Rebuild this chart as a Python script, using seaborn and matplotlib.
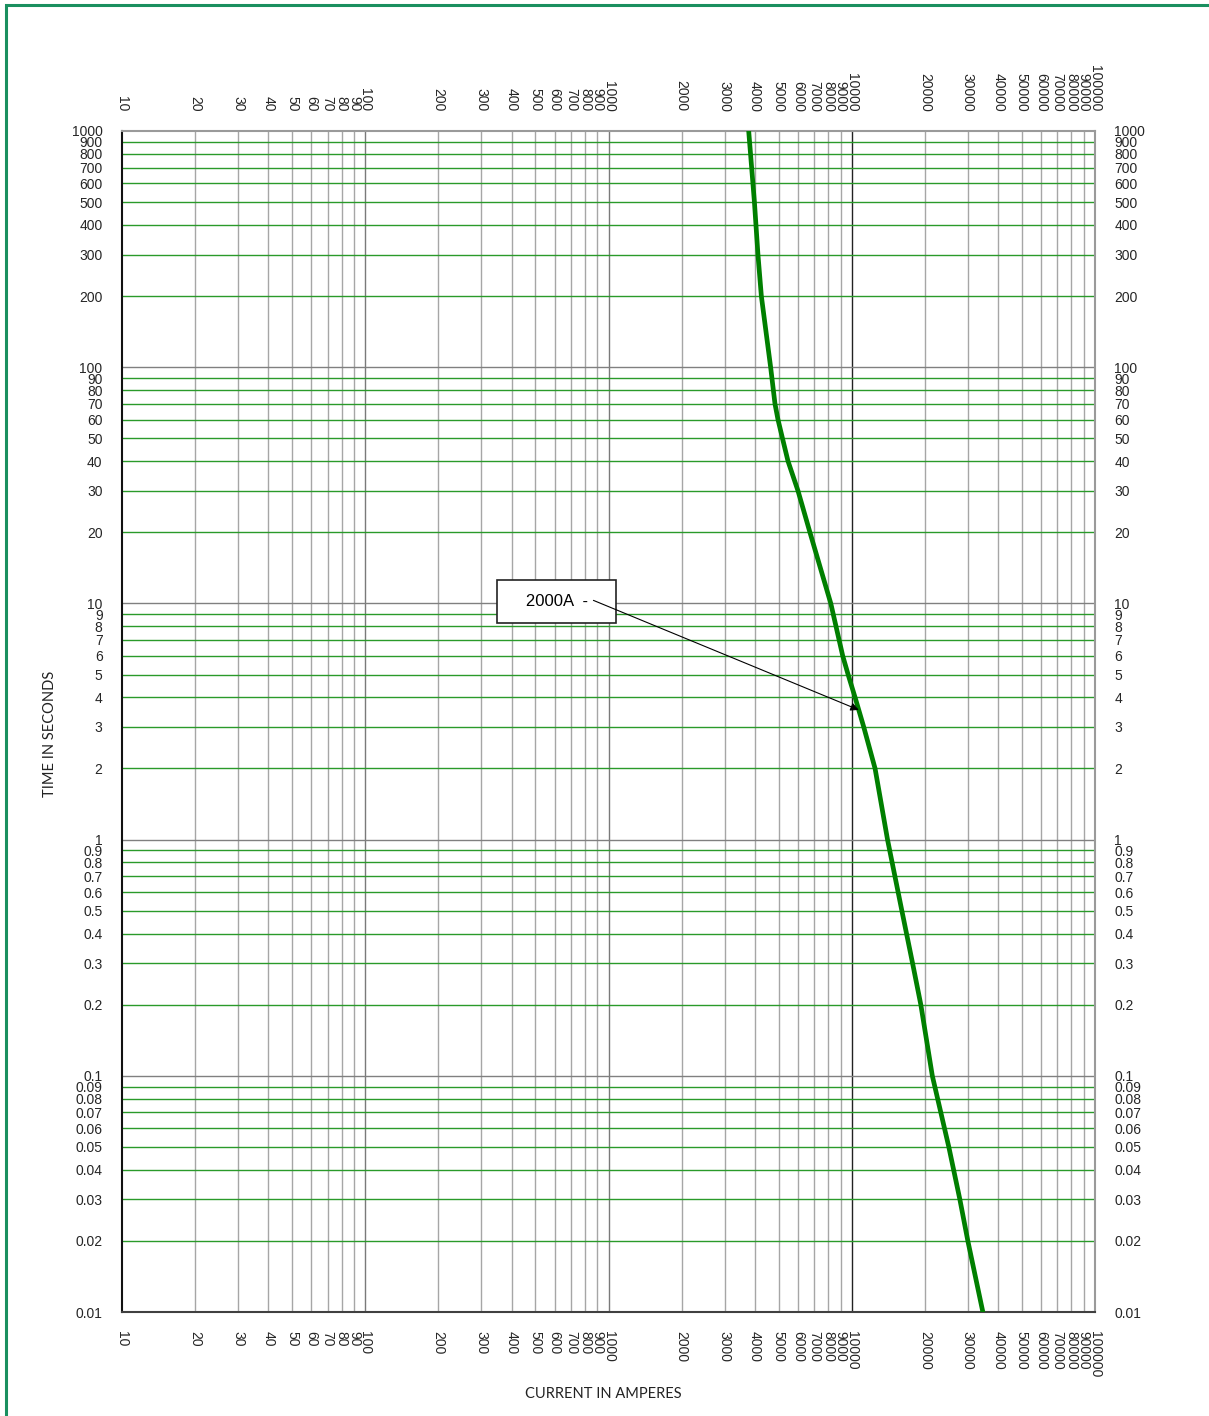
import matplotlib
matplotlib.use("Agg")
import matplotlib.pyplot as plt
import seaborn as sns
import pandas as pd
from matplotlib.patches import Rectangle


# Time-current curve
current_amps = [3770, 3980, 4115, 4250, 4640, 4835, 4975, 5190, 5470, 6010, 6730,
                8200, 9180, 9660, 10320, 11200, 12470, 14030, 16070, 17780, 19230,
                21440, 25060, 27820, 30010, 34590]
time_seconds = [1000, 500, 300, 200, 100, 70, 60, 50, 40, 30, 20,
                10, 6, 5, 4, 3, 2, 1, 0.5, 0.3, 0.2,
                0.1, 0.05, 0.03, 0.02, 0.01]

# Axis ticks
x_ticks = [10, 20, 30, 40, 50, 60, 70, 80, 90,
           100, 200, 300, 400, 500, 600, 700, 800, 900,
           1000, 2000, 3000, 4000, 5000, 6000, 7000, 8000, 9000,
           10000, 20000, 30000, 40000, 50000, 60000, 70000, 80000, 90000,
           100000]
x_labels = [str(v) for v in x_ticks]
y_ticks = [0.01, 0.02, 0.03, 0.04, 0.05, 0.06, 0.07, 0.08, 0.09,
           0.1, 0.2, 0.3, 0.4, 0.5, 0.6, 0.7, 0.8, 0.9,
           1, 2, 3, 4, 5, 6, 7, 8, 9,
           10, 20, 30, 40, 50, 60, 70, 80, 90,
           100, 200, 300, 400, 500, 600, 700, 800, 900,
           1000]
y_labels = ["0.01", "0.02", "0.03", "0.04", "0.05", "0.06", "0.07", "0.08", "0.09",
            "0.1", "0.2", "0.3", "0.4", "0.5", "0.6", "0.7", "0.8", "0.9",
            "1", "2", "3", "4", "5", "6", "7", "8", "9",
            "10", "20", "30", "40", "50", "60", "70", "80", "90",
            "100", "200", "300", "400", "500", "600", "700", "800", "900",
            "1000"]
x_decades = [100, 1000]
y_decades = [0.1, 1, 10, 100]

# Annotation
note_text = "   2000A  -   "
note_xy = (10690, 3.54)
note_box = (611, 10.2)
note_tail = (867, 10.3)

df = pd.DataFrame({"current": current_amps, "time": time_seconds})

sns.set_style("white")
plt.rcParams["font.family"] = ["Liberation Sans", "DejaVu Sans"]

fig = plt.figure(figsize=(12.09, 14.16), dpi=100)
W, H = 1209, 1416
ax = fig.add_axes([122 / W, 1 - 1312 / H, (1095 - 122) / W, (1312 - 131) / H])

ax.set_xscale("log")
ax.set_yscale("log")
ax.set_xlim(10, 100000)
ax.set_ylim(0.01, 1000)

# grid
for v in x_ticks[1:-1]:
    if v in x_decades:
        c = "#7a7a7a"
    elif v == 10000:
        c = "#222222"
    else:
        c = "#a6a6a6"
    ax.axvline(v, color=c, lw=1.0, zorder=1)
for v in y_ticks[1:-1]:
    c = "#808080" if v in y_decades else "#2a9a2a"
    ax.axhline(v, color=c, lw=1.0, zorder=1)

sns.lineplot(data=df, x="current", y="time", sort=False, estimator=None,
             color="#007f00", lw=3.4, ax=ax, zorder=3)

ax.text(note_box[0], note_box[1], note_text, ha="center", va="center", fontsize=12,
        color="black",
        bbox=dict(boxstyle="square,pad=0.85", fc="white", ec="#222222", lw=1.2), zorder=5)
ax.annotate("", xy=note_xy, xytext=note_tail,
            arrowprops=dict(arrowstyle="-|>", color="black", lw=0.8,
                            mutation_scale=12, shrinkA=0, shrinkB=0), zorder=6)

ax.set_xticks(x_ticks, labels=x_labels)
ax.set_yticks(y_ticks, labels=y_labels)
ax.minorticks_off()
ax.tick_params(axis="x", which="both", length=0, top=True, labeltop=True,
               labelrotation=-90, pad=14, labelsize=10)
ax.tick_params(axis="y", which="both", length=0, right=True, labelright=True,
               pad=14, labelsize=10)
ax.set_xlabel("")
ax.set_ylabel("")

for side in ["top", "right"]:
    ax.spines[side].set_color("#9a9a9a")
    ax.spines[side].set_linewidth(1.5)
ax.spines["left"].set_color("#111111")
ax.spines["left"].set_linewidth(1.5)
ax.spines["bottom"].set_color("#404040")
ax.spines["bottom"].set_linewidth(1.5)

fig.text(50 / W, 1 - 734 / H, "TIME IN SECONDS", rotation=90, ha="center", va="center",
         fontsize=10.5, family=["Lato", "DejaVu Sans"], color="#222222")
fig.text(603 / W, 1 - 1394 / H, "CURRENT IN AMPERES", ha="center", va="center",
         fontsize=10.5, family=["Lato", "DejaVu Sans"], color="#222222")

# green border around the page
fig.patches.append(Rectangle((6 / W, -0.01), 1.1, 1 - 5 / H + 0.01, transform=fig.transFigure,
                             fill=False, ec="#1a8f5f", lw=2.2))

fig.savefig("out.png", dpi=100)
